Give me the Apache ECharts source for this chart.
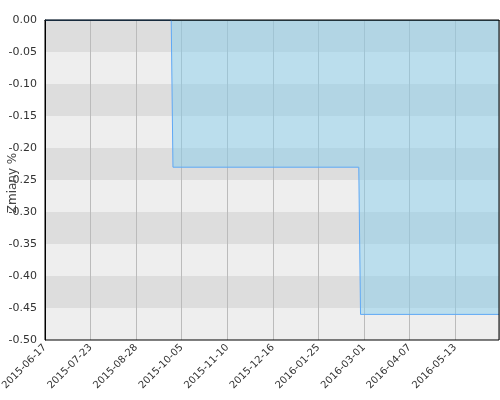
<!DOCTYPE html>
<html>
<head>
<meta charset="utf-8">
<script src="https://cdn.jsdelivr.net/npm/echarts@6/dist/echarts.min.js"></script>
<style>html,body{margin:0;padding:0;background:#fff}#c{width:500px;height:400px}</style>
</head>
<body>
<div id="c"></div>
<script>
// tick labels for every 26th trading day (x index 0, 26, 52, ...)
var tickLabels = ['2015-06-17','2015-07-23','2015-08-28','2015-10-05','2015-11-10','2015-12-16','2016-01-25','2016-03-01','2016-04-07','2016-05-13'];
var tickStep = 26;
var lastIndex = 259;
// step points of the series: trading-day index and value (%)
var pointIndex = [0, 72, 73, 179, 180, 259];
var pointValue = [0, 0, -0.23, -0.23, -0.46, -0.46];
var yTicks = [-0.5, 0, 0.05];
var yName = 'Zmiany %';

var data = pointIndex.map(function(ix, i){ return [ix, pointValue[i]]; });

var chart = echarts.init(document.getElementById('c'));
chart.setOption({
  animation: false,
  grid: { left: 45, right: 1, top: 20, bottom: 60, containLabel: false, outerBoundsMode: 'none',
          show: true, z: 5, borderColor: '#000', borderWidth: 1, backgroundColor: 'transparent' },
  graphic: [{
    type: 'text', rotation: Math.PI / 2, z: 10,
    x: 13, y: 183,
    style: { text: yName, fontSize: 12, fill: '#444', fontFamily: 'DejaVu Sans', align: 'center', verticalAlign: 'middle' }
  }],
  xAxis: {
    type: 'value', min: 0, max: lastIndex, interval: tickStep,
    axisLine: { show: true, lineStyle: { color: '#000', width: 1 } },
    axisTick: { show: false },
    splitLine: { show: true, lineStyle: { color: '#bbbbbb', width: 1 } },
    axisLabel: {
      rotate: 45, fontSize: 10, color: '#333', fontFamily: 'DejaVu Sans', margin: 6,
      showMaxLabel: false,
      formatter: function(v){ var k = Math.round(v / tickStep); return (v % tickStep === 0 && tickLabels[k]) ? tickLabels[k] : ''; }
    }
  },
  yAxis: {
    type: 'value', min: yTicks[0], max: yTicks[1], interval: yTicks[2],
    axisLine: { show: true, lineStyle: { color: '#000', width: 1 } },
    axisTick: { show: false },
    splitLine: { show: false },
    splitArea: { show: true, areaStyle: { color: ['#eeeeee', '#dddddd'] } },
    axisLabel: { fontSize: 11, color: '#333', fontFamily: 'DejaVu Sans', margin: 8,
      formatter: function(v){ return v.toFixed(2); } }
  },
  series: [{
    type: 'line', data: data, symbol: 'none',
    lineStyle: { color: '#5ea8f5', width: 1 },
    areaStyle: { color: '#87CEEB', opacity: 0.5 }
  }]
});
</script>
</body>
</html>
